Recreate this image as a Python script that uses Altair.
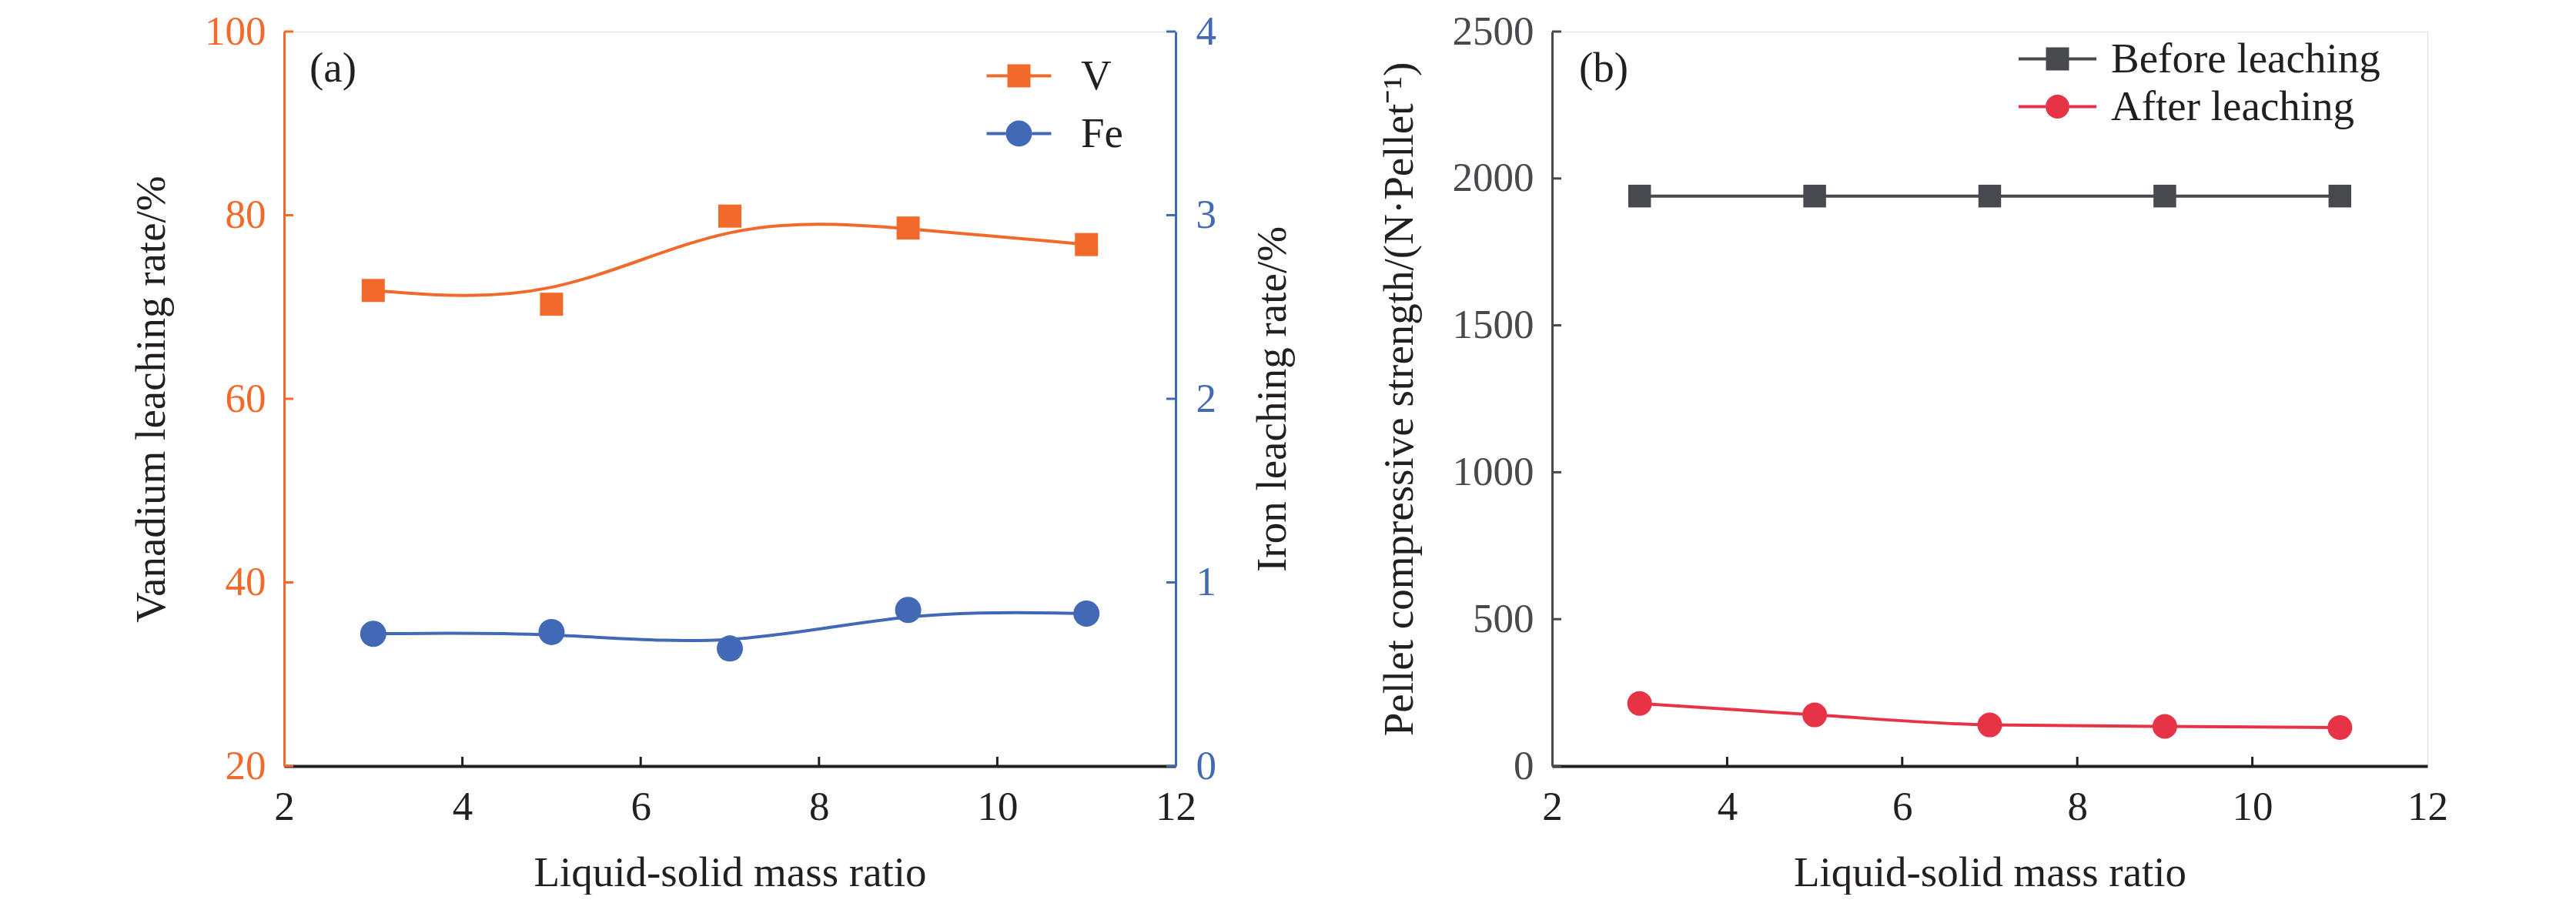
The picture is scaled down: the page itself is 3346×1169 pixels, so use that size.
import altair as alt
import pandas as pd

# ---------------- data ----------------
ratio = [3, 5, 7, 9, 11]
v_rate = [71.8, 70.3, 79.9, 78.6, 76.8]
fe_rate = [0.72, 0.73, 0.64, 0.85, 0.83]
before = [1940, 1940, 1940, 1940, 1940]
after = [213, 174, 140, 135, 131]

x_ticks = [2, 4, 6, 8, 10, 12]
x_inner = [4, 6, 8, 10]
v_ticks = [20, 40, 60, 80, 100]
fe_ticks = [0, 1, 2, 3, 4]
s_ticks = [0, 500, 1000, 1500, 2000, 2500]

left_series = ["V", "Fe"]
right_series = ["Before leaching", "After leaching"]

# ---------------- style ----------------
ORANGE = "#F26A2B"
BLUE = "#4169B6"
GRAY = "#48494E"
RED = "#E63346"
BLACK = "#231F20"
FONT = "'Liberation Serif', 'Times New Roman', Times, serif"
LBL = 53
TTL = 55
W1, W2, H = 1158, 1137, 954
TICK = 12


def sq_path(stub, t=0.13):
    return (f"M-{stub},-{t}H-1V{t}H-{stub}Z"
            f"M1,-{t}H{stub}V{t}H1Z"
            "M-1,-1H1V1H-1Z")


def circ_path(stub, r=1.13, t=0.13):
    return (f"M-{stub},-{t}H-{r}V{t}H-{stub}Z"
            f"M{r},-{t}H{stub}V{t}H{r}Z"
            f"M-{r},0A{r},{r} 0 1,0 {r},0A{r},{r} 0 1,0 -{r},0Z")


df_v = pd.DataFrame({"x": ratio, "y": v_rate})
df_fe = pd.DataFrame({"x": ratio, "y": fe_rate})
df_b = pd.DataFrame({"x": ratio, "y": before})
df_a = pd.DataFrame({"x": ratio, "y": after})

xscale = alt.Scale(domain=[2, 12], nice=False, zero=False)
xaxis = alt.Axis(values=x_ticks, title="Liquid-solid mass ratio", ticks=False, tickSize=0,
                 grid=False, labelFlush=False, labelPadding=27, titlePadding=32,
                 labelFontSize=LBL, titleFontSize=TTL, labelColor=BLACK, titleColor=BLACK,
                 domainColor=BLACK, domainWidth=4, labelFont=FONT, titleFont=FONT,
                 titleFontWeight="normal", format="d")


def X():
    return alt.X("x:Q", scale=xscale, axis=xaxis)


# ---------------- left panel ----------------
vscale = alt.Scale(domain=[20, 100], nice=False, zero=False)
vaxis = alt.Axis(values=v_ticks, title="Vanadium leaching rate/%", orient="left", ticks=False,
                 tickSize=0, grid=False, labelPadding=24, titlePadding=40, labelFontSize=LBL,
                 titleFontSize=TTL, labelColor=ORANGE, titleColor=BLACK, domainColor=ORANGE,
                 domainWidth=3, labelFont=FONT, titleFont=FONT, titleFontWeight="normal",
                 labelOverlap=False, format="d")
fescale = alt.Scale(domain=[0, 4], nice=False, zero=False)
feaxis = alt.Axis(values=fe_ticks, title="Iron leaching rate/%", orient="right", ticks=False,
                  tickSize=0, grid=False, labelPadding=26, titlePadding=47, labelFontSize=LBL,
                  titleFontSize=TTL, labelColor=BLUE, titleColor=BLACK, domainColor=BLUE,
                  domainWidth=3, labelFont=FONT, titleFont=FONT, titleFontWeight="normal",
                  titleAngle=270, titleBaseline="top", labelOverlap=False, format="d")


def YV():
    return alt.Y("y:Q", scale=vscale, axis=vaxis)


def YF():
    return alt.Y("y:Q", scale=fescale, axis=feaxis)


def legend(x, y, offset, rowpad):
    return alt.Legend(title=None, orient="none", legendX=x, legendY=y, symbolSize=900,
                      symbolStrokeWidth=0, labelOffset=offset, rowPadding=rowpad, padding=0,
                      labelFont=FONT, labelFontSize=TTL, labelColor=BLACK, symbolOpacity=1,
                      labelLimit=1000)


v_line = alt.Chart(df_v).mark_line(color=ORANGE, strokeWidth=4, interpolate="basis").encode(x=X(), y=YV())
v_pts = alt.Chart(df_v).mark_point(shape="square", filled=True, size=900, color=ORANGE, opacity=1).encode(x=X(), y=YV())
v_tk = alt.Chart(pd.DataFrame({"y": v_ticks})).mark_rule(color=ORANGE, strokeWidth=3).encode(
    y=YV(), x=alt.value(0), x2=alt.value(TICK))
x_tk1 = alt.Chart(pd.DataFrame({"x": x_inner})).mark_rule(color=BLACK, strokeWidth=3).encode(
    x=X(), y=alt.value(H), y2=alt.value(H - TICK))

leg1_df = pd.DataFrame({"series": left_series, "x": [3, 3], "y": [-100, -100]})
leg1 = alt.Chart(leg1_df).mark_point(filled=True, size=900, opacity=1, strokeWidth=0, clip=True).encode(
    x=X(), y=YV(),
    color=alt.Color("series:N", scale=alt.Scale(domain=left_series, range=[ORANGE, BLUE]),
                    legend=legend(927, 30, 53, 19)),
    shape=alt.Shape("series:N", scale=alt.Scale(domain=left_series,
                                                range=[sq_path(2.8), circ_path(2.8)]),
                    legend=legend(927, 30, 53, 19)),
)
lab_a = alt.Chart(pd.DataFrame({"t": ["(a)"]})).mark_text(
    align="left", baseline="middle", font=FONT, fontSize=TTL, color=BLACK).encode(
    text="t:N", x=alt.value(33), y=alt.value(48))

fe_line = alt.Chart(df_fe).mark_line(color=BLUE, strokeWidth=4, interpolate="basis").encode(x=X(), y=YF())
fe_pts = alt.Chart(df_fe).mark_point(shape="circle", filled=True, size=1156, color=BLUE, opacity=1).encode(x=X(), y=YF())
fe_tk = alt.Chart(pd.DataFrame({"y": fe_ticks})).mark_rule(color=BLUE, strokeWidth=3).encode(
    y=YF(), x=alt.value(W1), x2=alt.value(W1 - TICK))

left_v = alt.layer(v_line, v_pts, v_tk, x_tk1, leg1, lab_a)
left_fe = alt.layer(fe_line, fe_pts, fe_tk)
left = alt.layer(left_v, left_fe).resolve_scale(y="independent").properties(width=W1, height=H)

# ---------------- right panel ----------------
sscale = alt.Scale(domain=[0, 2500], nice=False, zero=True)
saxis = alt.Axis(values=s_ticks, title="Pellet compressive strength/(N·Pellet⁻¹)", orient="left",
                 ticks=False, tickSize=0, grid=False, labelPadding=24, titlePadding=40,
                 labelFontSize=LBL, titleFontSize=TTL, labelColor=GRAY, titleColor=BLACK,
                 domainColor=GRAY, domainWidth=3, labelFont=FONT, titleFont=FONT,
                 titleFontWeight="normal", labelOverlap=False, format="d")


def YS():
    return alt.Y("y:Q", scale=sscale, axis=saxis)


b_line = alt.Chart(df_b).mark_line(color=GRAY, strokeWidth=4).encode(x=X(), y=YS())
b_pts = alt.Chart(df_b).mark_point(shape="square", filled=True, size=870, color=GRAY, opacity=1).encode(x=X(), y=YS())
a_line = alt.Chart(df_a).mark_line(color=RED, strokeWidth=4, interpolate="monotone").encode(x=X(), y=YS())
a_pts = alt.Chart(df_a).mark_point(shape="circle", filled=True, size=1024, color=RED, opacity=1).encode(x=X(), y=YS())
s_tk = alt.Chart(pd.DataFrame({"y": s_ticks})).mark_rule(color=GRAY, strokeWidth=3).encode(
    y=YS(), x=alt.value(0), x2=alt.value(TICK))
x_tk2 = alt.Chart(pd.DataFrame({"x": x_inner})).mark_rule(color=BLACK, strokeWidth=3).encode(
    x=X(), y=alt.value(H), y2=alt.value(H - TICK))

leg2_df = pd.DataFrame({"series": right_series, "x": [3, 3], "y": [-1000, -1000]})
leg2 = alt.Chart(leg2_df).mark_point(filled=True, size=900, opacity=1, strokeWidth=0, clip=True).encode(
    x=X(), y=YS(),
    color=alt.Color("series:N", scale=alt.Scale(domain=right_series, range=[GRAY, RED]),
                    legend=legend(629, 8, 42, 6)),
    shape=alt.Shape("series:N", scale=alt.Scale(domain=right_series,
                                                range=[sq_path(3.37), circ_path(3.37, r=1.03)]),
                    legend=legend(629, 8, 42, 6)),
)
lab_b = alt.Chart(pd.DataFrame({"t": ["(b)"]})).mark_text(
    align="left", baseline="middle", font=FONT, fontSize=TTL, color=BLACK).encode(
    text="t:N", x=alt.value(35), y=alt.value(48))

right = alt.layer(b_line, b_pts, a_line, a_pts, s_tk, x_tk2, leg2, lab_b).properties(width=W2, height=H)

chart = alt.hconcat(left, right, spacing=108).resolve_scale(color="independent", shape="independent").properties(
    padding={"left": 161, "top": 6, "right": 5, "bottom": 0}
).configure_view(stroke=BLACK, strokeWidth=3).configure(font=FONT)

chart.save("out.html", embed_options={"renderer": "svg", "actions": False})
